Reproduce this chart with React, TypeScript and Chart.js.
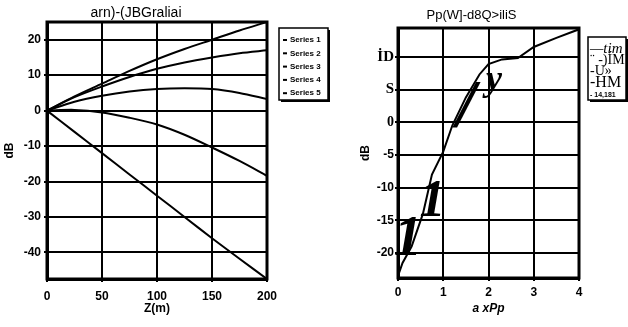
import React, { useEffect, useRef } from "react";
import { Chart, registerables } from "chart.js";

Chart.register(...registerables);
Chart.defaults.font.family = "'Liberation Sans', Arial, sans-serif";
Chart.defaults.color = "#000";

// ---------- Left panel data ----------
const leftTitle = "arn)-(JBGraliai";
const leftXTitle = "Z(m)";
const leftYTitle = "dB";
const distance = [0, 25, 50, 75, 100, 125, 150, 175, 200];
const series1 = [0, 4, 7.6, 11.2, 14.5, 17.4, 20, 22.6, 25];
const series2 = [0, 3.8, 6.8, 9.5, 11.8, 13.6, 15, 16.2, 17];
const series3 = [0, 2.5, 4.2, 5.4, 6.1, 6.3, 6.1, 5, 3.3];
const series4 = [0, 0.2, -0.5, -2, -3.9, -6.8, -10.4, -14.2, -18.4];
const series5 = [0, -6, -12, -18, -24, -30, -36, -41.8, -47.5];
const leftSeriesNames = ["Series 1", "Series 2", "Series 3", "Series 4", "Series 5"];
const leftXTicks = [0, 50, 100, 150, 200];
const leftYTicks = [20, 10, 0, -10, -20, -30, -40];

// ---------- Right panel data ----------
const rightTitle = "Pp(W]-d8Q>iliS";
const rightXTitle = "a xPp";
const rightYTitle = "dB";
const pump = [0, 0.1, 0.3, 0.55, 0.75, 1.0, 1.2, 1.5, 1.8, 2.0, 2.3, 2.65, 3.0, 3.5, 4.0];
const gain = [-23.5, -21.5, -19, -14, -8, -4.5, -0.5, 3.8, 7.3, 8.9, 9.6, 9.8, 11.5, 12.9, 14.2];
const rightLegendNames = ["—tim", "¨ -)ÍM", "-U»", "-HM", "- 14,181"];
const rightXTicks = [0, 1, 2, 3, 4];
const rightYTicks = [10, 5, 0, -5, -10, -15, -20];
const rightYTickLabels = ["İD", "S", "0", "-5", "-10", "-15", "-20"];
// stray glyphs printed over the right plot (text, placed in data units)
const glyphTexts = ["1", "1", "/", "y"];
const glyphX = [0.22, 0.76, 1.5, 2.12];
const glyphY = [-20.3, -14.4, -0.6, 5.0];
const glyphSizes = [56, 52, 68, 36];

const BLACK = "#000";

const frame = {
  id: "frame",
  afterDatasetsDraw(chart: any) {
    const { ctx, chartArea: a } = chart;
    ctx.save();
    ctx.strokeStyle = BLACK;
    ctx.lineWidth = 3;
    ctx.strokeRect(a.left, a.top, a.right - a.left, a.bottom - a.top);
    ctx.restore();
  },
};

function titlePlugin(text: string, dx: number, y: number, size: number) {
  return {
    id: "ttl",
    afterDraw(chart: any) {
      const { ctx, chartArea: a } = chart;
      ctx.save();
      ctx.fillStyle = BLACK;
      ctx.font = `${size}px 'Liberation Sans', Arial, sans-serif`;
      ctx.textAlign = "center";
      ctx.textBaseline = "middle";
      ctx.fillText(text, (a.left + a.right) / 2 + dx, y);
      ctx.restore();
    },
  };
}

const leftLegend = {
  id: "leftLegend",
  afterDraw(chart: any) {
    const { ctx, chartArea: a } = chart;
    const x = a.right + 12;
    const y = a.top + 6;
    const w = 49;
    const h = 72;
    ctx.save();
    ctx.fillStyle = BLACK;
    ctx.fillRect(x + 2, y + 2, w, h);
    ctx.fillStyle = "#fff";
    ctx.fillRect(x, y, w, h);
    ctx.strokeStyle = BLACK;
    ctx.lineWidth = 1.5;
    ctx.strokeRect(x, y, w, h);
    ctx.font = "bold 8px 'Liberation Sans Narrow', 'Liberation Sans', sans-serif";
    ctx.textBaseline = "middle";
    ctx.fillStyle = BLACK;
    leftSeriesNames.forEach((n, i) => {
      const yy = y + 12 + i * 13.3;
      ctx.fillRect(x + 4, yy - 1, 4, 2);
      ctx.fillText(n, x + 11, yy);
    });
    ctx.restore();
  },
};

const rightLegend = {
  id: "rightLegend",
  afterDraw(chart: any) {
    const { ctx, chartArea: a } = chart;
    const x = a.right + 9;
    const y = a.top + 9;
    const w = 38;
    const h = 63;
    ctx.save();
    ctx.fillStyle = BLACK;
    ctx.fillRect(x + 2, y + 2, w, h);
    ctx.fillStyle = "#fff";
    ctx.fillRect(x, y, w, h);
    ctx.strokeStyle = BLACK;
    ctx.lineWidth = 1.5;
    ctx.strokeRect(x, y, w, h);
    ctx.fillStyle = BLACK;
    ctx.textBaseline = "middle";
    const fonts = [
      "italic 15px 'Liberation Serif', serif",
      "14px 'Liberation Serif', serif",
      "14px 'Liberation Serif', serif",
      "16px 'Liberation Serif', serif",
      "bold 7px 'Liberation Sans', sans-serif",
    ];
    const ys = [12, 23, 34, 46, 58];
    rightLegendNames.forEach((n, i) => {
      ctx.font = fonts[i];
      ctx.fillText(n, x + 2, y + ys[i]);
    });
    ctx.restore();
  },
};

const glyphs = {
  id: "glyphs",
  afterDatasetsDraw(chart: any) {
    const { ctx } = chart;
    const xs = chart.scales.x;
    const ys = chart.scales.y;
    ctx.save();
    ctx.fillStyle = BLACK;
    ctx.textAlign = "center";
    ctx.textBaseline = "alphabetic";
    glyphTexts.forEach((t, i) => {
      ctx.font = `italic bold ${glyphSizes[i]}px 'Liberation Serif', serif`;
      ctx.fillText(t, xs.getPixelForValue(glyphX[i]), ys.getPixelForValue(glyphY[i]));
    });
    ctx.restore();
  },
};

function lineSet(xs: number[], ys: number[], label: string, tension: number) {
  return {
    label,
    data: xs.map((x, i) => ({ x, y: ys[i] })),
    borderColor: BLACK,
    backgroundColor: BLACK,
    borderWidth: 2,
    pointRadius: 0,
    tension,
    fill: false,
  };
}

const tickFont = { size: 12, weight: "bold" as const, family: "'Liberation Sans', Arial, sans-serif" };

function leftConfig(): any {
  const all = [series1, series2, series3, series4, series5];
  return {
    type: "line",
    data: {
      datasets: all.map((s, i) => lineSet(distance, s, leftSeriesNames[i], 0.3)),
    },
    options: {
      responsive: false,
      animation: false,
      layout: { padding: { top: 22, right: 73, left: 0, bottom: 0 } },
      plugins: { legend: { display: false }, title: { display: false }, tooltip: { enabled: false } },
      scales: {
        x: {
          type: "linear",
          min: 0,
          max: 200,
          afterBuildTicks: (s: any) => {
            s.ticks = leftXTicks.map((v) => ({ value: v }));
          },
          afterFit: (s: any) => {
            s.height = 48;
          },
          grid: { color: BLACK, lineWidth: 2, tickLength: 3 },
          border: { display: true, color: BLACK, width: 3 },
          ticks: { font: tickFont, color: BLACK, padding: 7, maxRotation: 0, autoSkip: false },
          title: {
            display: true,
            text: leftXTitle,
            font: { size: 12, weight: "bold" },
            color: BLACK,
            padding: { top: 0, bottom: 11 },
          },
        },
        y: {
          type: "linear",
          min: -47.5,
          max: 25,
          afterBuildTicks: (s: any) => {
            s.ticks = leftYTicks.map((v) => ({ value: v }));
          },
          afterFit: (s: any) => {
            s.width = 47;
          },
          grid: { color: BLACK, lineWidth: 2, tickLength: 3 },
          border: { display: true, color: BLACK, width: 3 },
          ticks: { font: tickFont, color: BLACK, padding: 3, autoSkip: false },
          title: {
            display: true,
            text: leftYTitle,
            font: { size: 12, weight: "bold" },
            color: BLACK,
            padding: { top: 2, bottom: 0 },
          },
        },
      },
    },
    plugins: [frame, leftLegend, titlePlugin(leftTitle, -21, 13, 14)],
  };
}

function rightConfig(): any {
  return {
    type: "line",
    data: { datasets: [lineSet(pump, gain, rightLegendNames[0], 0)] },
    options: {
      responsive: false,
      animation: false,
      layout: { padding: { top: 28, right: 49, left: 0, bottom: 0 } },
      plugins: { legend: { display: false }, title: { display: false }, tooltip: { enabled: false } },
      scales: {
        x: {
          type: "linear",
          min: 0,
          max: 4,
          afterBuildTicks: (s: any) => {
            s.ticks = rightXTicks.map((v) => ({ value: v }));
          },
          afterFit: (s: any) => {
            s.height = 49;
          },
          grid: { color: BLACK, lineWidth: 2, tickLength: 3 },
          border: { display: true, color: BLACK, width: 3 },
          ticks: { font: tickFont, color: BLACK, padding: 4, maxRotation: 0, autoSkip: false },
          title: {
            display: true,
            text: rightXTitle,
            font: { size: 12, weight: "bold", style: "italic" },
            color: BLACK,
            padding: { top: 0, bottom: 11 },
          },
        },
        y: {
          type: "linear",
          min: -23.8,
          max: 14.4,
          afterBuildTicks: (s: any) => {
            s.ticks = rightYTicks.map((v) => ({ value: v }));
          },
          afterFit: (s: any) => {
            s.width = 58;
          },
          grid: { color: BLACK, lineWidth: 2, tickLength: 3 },
          border: { display: true, color: BLACK, width: 3 },
          ticks: {
            color: BLACK,
            padding: 1,
            autoSkip: false,
            callback: (v: number) => {
              const i = rightYTicks.indexOf(v);
              return i >= 0 ? rightYTickLabels[i] : "";
            },
            font: (c: any) =>
              c.tick && c.tick.value > 0
                ? { size: 15, weight: "bold", family: "'Liberation Serif', serif" }
                : c.tick && c.tick.value === 0
                ? { size: 14, weight: "bold", family: "'Liberation Serif', serif" }
                : tickFont,
          },
          title: {
            display: true,
            text: rightYTitle,
            font: { size: 12, weight: "bold" },
            color: BLACK,
            padding: { top: 18, bottom: 0 },
          },
        },
      },
    },
    plugins: [frame, glyphs, rightLegend, titlePlugin(rightTitle, -17, 15, 13)],
  };
}

export default function App() {
  const leftRef = useRef<HTMLCanvasElement>(null);
  const rightRef = useRef<HTMLCanvasElement>(null);

  useEffect(() => {
    const c1 = new Chart(leftRef.current as HTMLCanvasElement, leftConfig());
    const c2 = new Chart(rightRef.current as HTMLCanvasElement, rightConfig());
    return () => {
      c1.destroy();
      c2.destroy();
    };
  }, []);

  return (
    <div style={{ position: "fixed", left: 0, top: 0, width: 628, height: 327, background: "#fff", overflow: "hidden" }}>
      <canvas ref={leftRef} width={340} height={327} style={{ position: "absolute", left: 0, top: 0, display: "block" }} />
      <canvas ref={rightRef} width={288} height={327} style={{ position: "absolute", left: 340, top: 0, display: "block" }} />
    </div>
  );
}
